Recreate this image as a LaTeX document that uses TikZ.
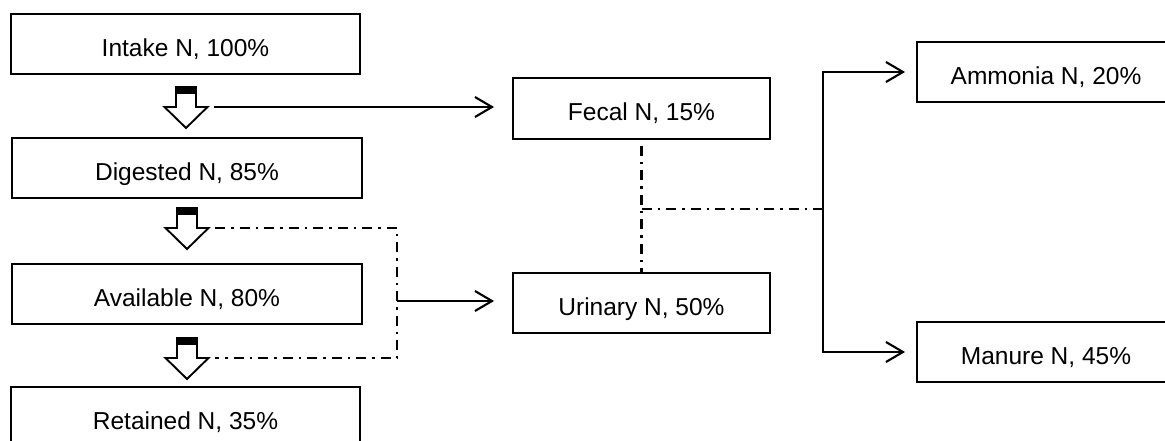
\documentclass[tikz,border=0pt]{standalone}
\usepackage{fontspec}
\setmainfont{Liberation Sans}
\usetikzlibrary{arrows.meta}
\begin{document}
\begin{tikzpicture}[x=1pt,y=-1pt,
  box/.style={draw, line width=1.9pt, inner sep=0pt,
    font=\fontsize{24.5}{28}\selectfont, text height=24.5pt, text depth=0pt,
    minimum height=60pt},
  flow/.style={line width=2.1pt, line join=miter},
  dd/.style={line width=2.1pt, dash pattern=on 10pt off 6pt on 2.5pt off 6pt},
  tip/.style={-{Straight Barb[length=17pt,width=20pt]}},
  barrow/.pic={
    \draw[line width=1.9pt, fill=white, line join=miter]
      (-10,0) -- (10,0) -- (10,20) -- (21.5,20) -- (0,41) -- (-21.5,20) -- (-10,20) -- cycle;
    \fill (-10,0) rectangle (10,7);
    \coordinate (-r) at (28,20);
  }
]
\useasboundingbox (0,0) rectangle (1165,441);
\clip (0,0) rectangle (1165,441);

\node[box, minimum width=349pt] (intake)    at (185.5,44)  {Intake N, 100\%};
\node[box, minimum width=350pt] (digested)  at (187,168)   {Digested N, 85\%};
\node[box, minimum width=350pt] (available) at (187,294)   {Available N, 80\%};
\node[box, minimum width=349pt] (retained)  at (185.5,417) {Retained N, 35\%};
\node[box, minimum width=257pt, minimum height=61pt] (fecal) at (641.5,108.5) {Fecal N, 15\%};
\node[box, minimum width=257pt] (urinary)   at (641.5,303) {Urinary N, 50\%};
\node[box, minimum width=258pt] (ammonia)   at (1046,72)   {Ammonia N, 20\%};
\node[box, minimum width=258pt] (manure)    at (1046,352)  {Manure N, 45\%};

\pic (a1) at (186,87)  {barrow};
\pic (a2) at (187,208) {barrow};
\pic (a3) at (187,338) {barrow};

\coordinate (v) at (397,0);
\coordinate (j) at (397,301);
\coordinate (k) at (823,209);

% intake -> fecal
\draw[flow, tip, shorten >=18pt] (a1-r) -- (a1-r -| fecal.west);
% digested / available -> urinary
\draw[dd] (a2-r) -- (a2-r -| v) -- (a3-r -| v) -- (a3-r);
\draw[flow, tip, shorten >=18pt] (j) -- (j -| urinary.west);
% fecal + urinary -> split
\draw[dd, shorten <=6pt] (fecal.south) -- (urinary.north);
\draw[dd] (fecal.south |- k) -- (k);
\draw[flow, {Straight Barb[length=17pt,width=20pt]}-{Straight Barb[length=17pt,width=20pt]},
      shorten <=11pt, shorten >=11pt]
  (ammonia.west) -- (ammonia.west -| k) -- (manure.west -| k) -- (manure.west);
\end{tikzpicture}
\end{document}
